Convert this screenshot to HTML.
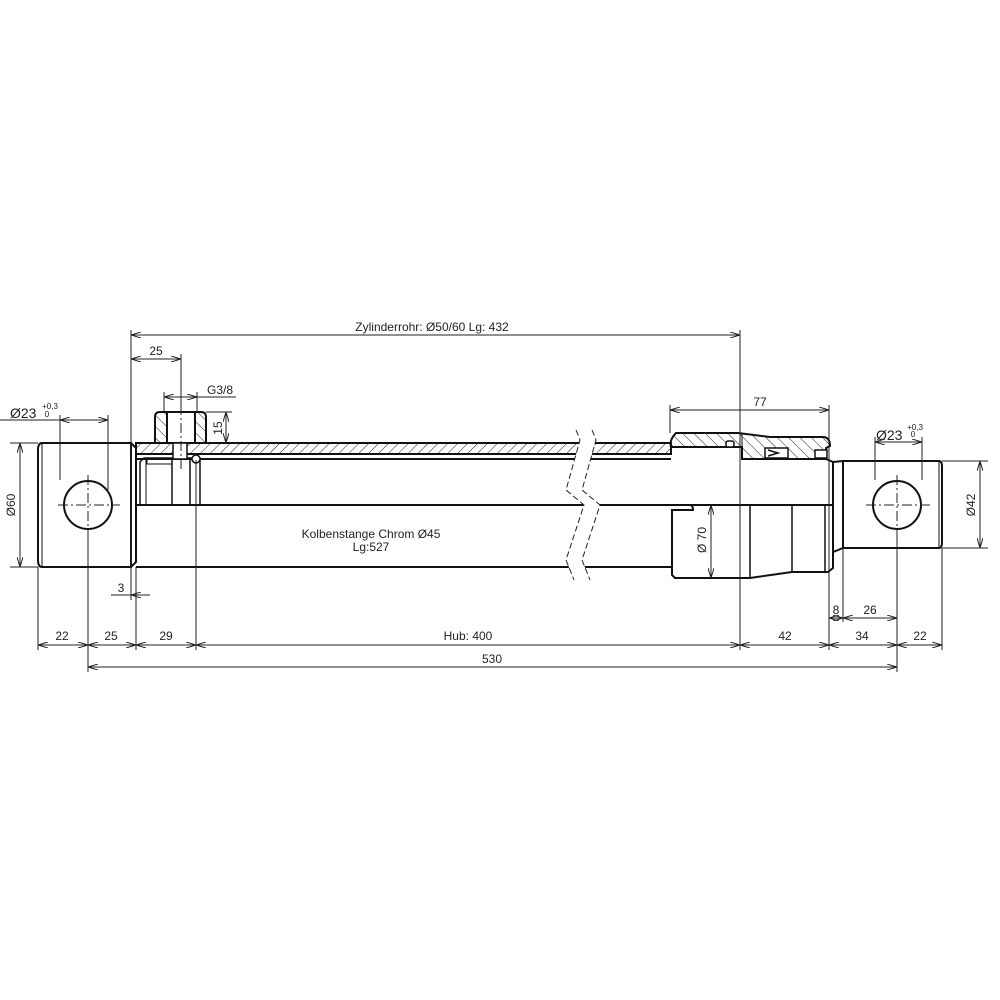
<!DOCTYPE html>
<html><head><meta charset="utf-8"><style>html,body{margin:0;background:#fff}svg{display:block}text{font-family:"Liberation Sans",sans-serif;fill:#222}</style></head><body>
<svg width="1000" height="1000" viewBox="0 0 1000 1000" xmlns="http://www.w3.org/2000/svg">
<defs>
<pattern id="h" width="7" height="7" patternUnits="userSpaceOnUse" patternTransform="rotate(45)"><line x1="0" y1="0" x2="0" y2="7" stroke="#222" stroke-width="1"/></pattern>
<pattern id="h2" width="8" height="8" patternUnits="userSpaceOnUse" patternTransform="rotate(-45)"><line x1="0" y1="0" x2="0" y2="8" stroke="#222" stroke-width="1"/></pattern>
<marker id="a" markerWidth="10" markerHeight="6" refX="10" refY="3" orient="auto-start-reverse" markerUnits="userSpaceOnUse"><path d="M0,0 L10,3 L0,6" fill="none" stroke="#222" stroke-width="1"/></marker>
</defs>
<g fill="none" stroke="#111" stroke-width="2">
<path d="M42,443 H131 V567 H42 Q38,567 38,560 V450 Q38,443 42,443"/>
<line x1="42" y1="443" x2="42" y2="567" stroke-width="1"/>
<path d="M131,443 L136,448 V562 L131,567" />
<circle cx="88" cy="505" r="24"/>
<rect x="136" y="443" width="535" height="11" fill="url(#h)"/>
<line x1="136" y1="459" x2="671" y2="459"/>
<line x1="136" y1="505" x2="833" y2="505"/>
<line x1="136" y1="567" x2="671" y2="567"/>
<path d="M140,505 V462 L144,458 H200 V505" stroke-width="1.5"/>
<line x1="146" y1="460" x2="146" y2="505" stroke-width="1"/>
<line x1="172" y1="459" x2="172" y2="505" stroke-width="1.5"/>
<line x1="190" y1="459" x2="190" y2="505" stroke-width="1.5"/>
<rect x="147" y="459" width="25" height="5" stroke-width="1"/>
<circle cx="196" cy="459" r="4" stroke-width="1.5" fill="#fff"/>
<path d="M160,412 H201 Q206,412 206,417 V443 H155 V417 Q155,412 160,412 Z" fill="url(#h2)"/>
<rect x="167" y="412" width="28" height="31" fill="#fff"/>
<rect x="173" y="443" width="14" height="16" fill="#fff" stroke-width="1.5"/>
<path d="M676,433 H738 L770,437 H824 Q830,438 830,446 L826,448 V459 H742 V447 H671 Q669,440 676,433 Z" fill="url(#h2)"/>
<line x1="742" y1="433" x2="742" y2="459" stroke-width="1"/>
<rect x="726" y="441" width="8" height="6" rx="2" fill="#fff" stroke-width="1.5"/>
<path d="M765,448 H788 V458 H765 Z M768,450 L778,453 L768,456" fill="#fff" stroke-width="1.5"/>
<rect x="815" y="450" width="12" height="8" fill="#fff" stroke-width="1.5"/>
<line x1="826" y1="459" x2="833" y2="462" />
<path d="M671,505 H690 Q693,505 693,510 H672 V575 L675,578 H750 L792,572 H828 L833,568 V505"/>
<line x1="750" y1="505" x2="750" y2="578" stroke-width="1.5"/>
<line x1="792" y1="505" x2="792" y2="572" stroke-width="1.5"/>
<line x1="825" y1="505" x2="825" y2="572" stroke-width="1.5"/>
<line x1="833" y1="462" x2="833" y2="505"/>
<path d="M833,462 L843,461 V548 L833,552 V505"/>
<path d="M843,461 H939 Q942,461 942,467 V542 Q942,548 939,548 H843"/>
<line x1="939" y1="461" x2="939" y2="548" stroke-width="1"/>
<circle cx="897" cy="505" r="24"/>
</g>
<path d="M570,430 L580,440 L566,490 L584,505 L566,560 L574,580 L590,580 L582,560 L600,505 L582,490 L596,440 L586,430Z" fill="#fff"/>
<g fill="none" stroke="#222" stroke-width="1" stroke-dasharray="6,3">
<path d="M576,430 L580,440 L566,490 L584,505 L566,560 L574,580"/>
<path d="M592,430 L596,440 L582,490 L600,505 L582,560 L590,580"/>
</g>
<g stroke="#222" stroke-width="1" stroke-dasharray="10,3,2,3" fill="none">
<line x1="58" y1="505" x2="120" y2="505"/><line x1="88" y1="475" x2="88" y2="535"/>
<line x1="866" y1="505" x2="930" y2="505"/><line x1="897" y1="475" x2="897" y2="535"/>
<line x1="181" y1="405" x2="181" y2="470"/>
</g>
<g stroke="#222" stroke-width="1" fill="none">
<line x1="131" y1="330" x2="131" y2="600"/>
<line x1="740" y1="330" x2="740" y2="650"/>
<line x1="181" y1="354" x2="181" y2="405"/>
<line x1="164" y1="392" x2="164" y2="412"/><line x1="197" y1="392" x2="197" y2="412"/>
<line x1="206" y1="412" x2="232" y2="412"/>
<line x1="196" y1="460" x2="196" y2="650"/>
<line x1="136" y1="567" x2="136" y2="650"/>
<line x1="38" y1="567" x2="38" y2="650"/>
<line x1="88" y1="535" x2="88" y2="672"/>
<line x1="60" y1="415" x2="60" y2="480"/><line x1="108" y1="415" x2="108" y2="490"/>
<line x1="10" y1="443" x2="38" y2="443"/><line x1="10" y1="567" x2="38" y2="567"/>
<line x1="670" y1="405" x2="670" y2="433"/><line x1="829" y1="405" x2="829" y2="650"/>
<line x1="843" y1="548" x2="843" y2="622"/>
<line x1="897" y1="535" x2="897" y2="672"/>
<line x1="942" y1="548" x2="942" y2="650"/>
<line x1="875" y1="437" x2="875" y2="480"/><line x1="922" y1="437" x2="922" y2="480"/>
<line x1="942" y1="461" x2="988" y2="461"/><line x1="942" y1="548" x2="988" y2="548"/>
<line x1="0" y1="420" x2="60" y2="420"/>
<line x1="111" y1="595" x2="131" y2="595"/>
<line x1="197" y1="397" x2="236" y2="397"/>
</g>
<g stroke="#222" stroke-width="1" fill="none" marker-start="url(#a)" marker-end="url(#a)">
<line x1="131" y1="335" x2="740" y2="335"/>
<line x1="131" y1="359" x2="181" y2="359"/>
<line x1="164" y1="397" x2="197" y2="397"/>
<line x1="226" y1="412" x2="226" y2="443"/>
<line x1="60" y1="420" x2="108" y2="420"/>
<line x1="20" y1="443" x2="20" y2="567"/>
<line x1="38" y1="645" x2="88" y2="645"/>
<line x1="88" y1="645" x2="136" y2="645"/>
<line x1="136" y1="645" x2="196" y2="645"/>
<line x1="196" y1="645" x2="740" y2="645"/>
<line x1="740" y1="645" x2="829" y2="645"/>
<line x1="829" y1="645" x2="897" y2="645"/>
<line x1="897" y1="645" x2="942" y2="645"/>
<line x1="88" y1="667" x2="897" y2="667"/>
<line x1="829" y1="618" x2="843" y2="618"/>
<line x1="843" y1="618" x2="897" y2="618"/>
<line x1="670" y1="410" x2="829" y2="410"/>
<line x1="875" y1="442" x2="922" y2="442"/>
<line x1="980" y1="461" x2="980" y2="548"/>
<line x1="711" y1="505" x2="711" y2="578"/>
</g>
<line x1="131" y1="595" x2="150" y2="595" stroke="#222" stroke-width="1" marker-start="url(#a)"/>
<g font-size="12" text-anchor="middle">
<text x="432" y="331">Zylinderrohr: Ø50/60 Lg: 432</text>
<text x="156" y="355">25</text>
<text x="220" y="394">G3/8</text>
<text x="222" y="428" transform="rotate(-90 222 428)">15</text>
<text x="10" y="418" text-anchor="start" font-size="14">Ø23</text>
<text x="50" y="409" font-size="8">+0,3</text><text x="47" y="417" font-size="8">0</text>
<text x="15" y="505" transform="rotate(-90 15 505)">Ø60</text>
<text x="121" y="592">3</text>
<text x="62" y="640">22</text><text x="111" y="640">25</text><text x="166" y="640">29</text>
<text x="468" y="640">Hub: 400</text><text x="785" y="640">42</text><text x="862" y="640">34</text><text x="920" y="640">22</text>
<text x="492" y="663">530</text>
<text x="836" y="614">8</text><text x="870" y="614">26</text>
<text x="760" y="406">77</text>
<text x="876" y="440" text-anchor="start" font-size="14">Ø23</text>
<text x="915" y="430" font-size="8">+0,3</text><text x="913" y="437" font-size="8">0</text>
<text x="975" y="505" transform="rotate(-90 975 505)">Ø42</text>
<text x="706" y="540" transform="rotate(-90 706 540)">Ø 70</text>
<text x="371" y="538">Kolbenstange Chrom Ø45</text>
<text x="371" y="551">Lg:527</text>
</g>
</svg>
</body></html>
